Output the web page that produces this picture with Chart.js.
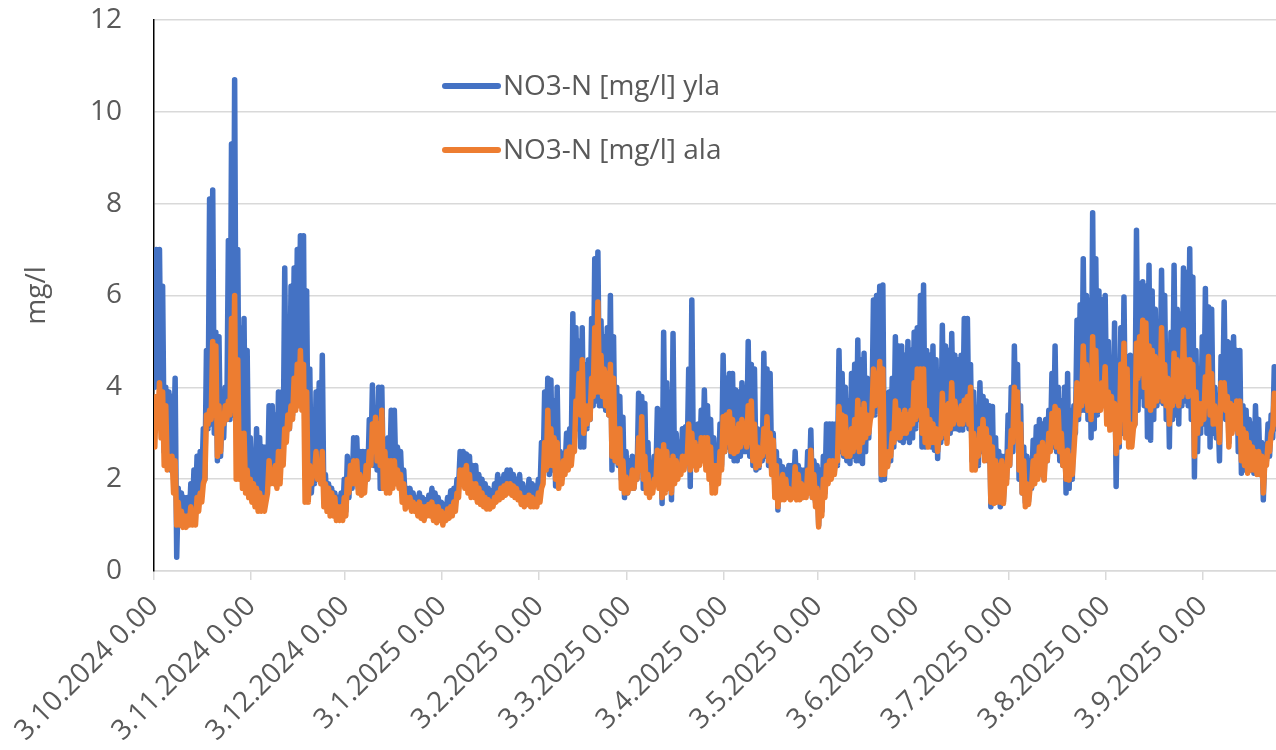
<!DOCTYPE html>
<html>
<head>
<meta charset="utf-8">
<script src="https://cdn.jsdelivr.net/npm/chart.js@4.4.1/dist/chart.umd.min.js"></script>
<style>
  html, body { margin: 0; padding: 0; background: #fff; }
</style>
</head>
<body>
<canvas id="myChart" width="1276" height="750"></canvas>
<script>
// days counted from 3.10.2024 0.00, one high and one low reading per day
var ylaHigh = [
  7.0, 7.0, 6.2, 4.0, 3.9, 3.8, 4.2, 1.8, 1.7, 1.6,
  1.6, 1.9, 2.2, 2.5, 2.6, 3.1, 4.8, 8.1, 8.3, 5.2,
  5.1, 3.4, 4.0, 7.2, 9.3, 10.7, 7.0, 5.3, 5.5, 4.8,
  2.9, 2.4, 3.1, 2.9, 2.7, 2.7, 3.6, 3.6, 3.4, 3.9,
  3.9, 6.6, 5.2, 6.2, 6.6, 7.0, 7.3, 7.3, 6.1, 4.4,
  2.3, 3.9, 4.1, 4.7, 2.1, 1.9, 1.8, 1.7, 1.6, 1.7,
  2.0, 2.5, 2.4, 2.9, 2.9, 2.6, 2.6, 2.6, 3.3, 4.05,
  3.3, 4.0, 4.0, 2.8, 2.9, 3.5, 3.5, 2.7, 2.6, 2.2,
  1.8, 1.8, 1.7, 1.6, 1.7, 1.6, 1.55, 1.65, 1.8, 1.7,
  1.6, 1.5, 1.45, 1.6, 1.75, 1.8, 2.0, 2.6, 2.6, 2.55,
  2.5, 2.3, 2.3, 2.1, 2.0, 1.9, 1.8, 1.75, 1.9, 2.1,
  2.0, 2.1, 2.2, 2.2, 2.1, 2.0, 2.1, 1.9, 1.8, 2.0,
  1.9, 1.85, 2.0, 2.8, 3.9, 4.2, 4.16, 3.7, 4.0, 2.6,
  2.5, 3.0, 3.1, 5.6, 5.3, 5.0, 5.3, 4.5, 4.6, 5.5,
  6.8, 6.95, 5.45, 5.1, 5.3, 6.0, 5.1, 4.0, 3.8, 3.35,
  2.6, 2.4, 2.5, 2.4, 3.87, 3.8, 3.65, 2.8, 2.3, 2.5,
  3.54, 3.5, 5.2, 4.1, 3.9, 5.17, 3.0, 2.8, 3.1, 3.14,
  4.4, 5.9, 3.1, 3.2, 3.5, 3.94, 3.6, 3.3, 2.9, 2.6,
  3.2, 4.7, 4.2, 4.3, 4.3, 3.94, 3.9, 4.1, 4.0, 5.0,
  4.5, 4.4, 3.1, 3.0, 4.74, 4.4, 4.3, 3.0, 2.6, 2.4,
  2.27, 2.2, 2.3, 2.3, 2.6, 2.3, 2.2, 2.2, 2.6, 3.07,
  2.4, 2.3, 2.2, 2.5, 3.2, 3.2, 3.2, 3.2, 4.8, 4.3,
  4.0, 3.7, 4.3, 4.5, 5.03, 4.6, 4.74, 4.2, 4.0, 5.9,
  6.0, 6.2, 6.23, 3.3, 3.9, 4.2, 5.1, 4.9, 4.9, 4.7,
  5.0, 4.8, 5.2, 5.3, 6.0, 6.23, 4.8, 4.7, 4.9, 4.6,
  3.7, 5.35, 4.9, 4.8, 5.17, 4.7, 4.6, 4.7, 5.5, 5.5,
  4.5, 3.9, 3.4, 4.1, 3.8, 3.7, 3.6, 3.58, 2.9, 2.6,
  2.5, 2.5, 3.4, 4.0, 4.9, 4.5, 3.6, 2.7, 2.5, 2.4,
  2.85, 3.14, 3.3, 3.2, 3.3, 3.5, 4.3, 4.9, 4.0, 3.7,
  4.0, 4.3, 3.5, 3.6, 5.46, 5.8, 6.8, 6.0, 5.9, 7.8,
  6.8, 6.1, 5.9, 6.0, 5.0, 4.6, 5.4, 4.0, 5.3, 5.97,
  4.67, 4.7, 4.5, 7.42, 6.26, 6.3, 6.2, 6.66, 6.1, 5.7,
  5.4, 6.55, 6.0, 4.8, 5.2, 6.66, 5.7, 5.6, 6.6, 6.5,
  7.02, 6.4, 4.8, 4.3, 5.1, 6.15, 5.75, 5.7, 4.0, 3.6,
  4.67, 5.86, 5.0, 4.96, 5.1, 4.8, 4.8, 3.6, 3.5, 3.3,
  3.2, 3.6, 3.3, 2.8, 2.6, 3.2, 3.4, 4.45, 4.45
];
var ylaLow = [
  4.0, 4.2, 3.8, 2.6, 2.5, 2.2, 2.6, 0.3, 1.0, 1.0,
  1.0, 1.1, 1.2, 1.4, 1.6, 1.9, 2.0, 3.1, 3.2, 3.0,
  2.4, 2.5, 2.9, 3.3, 3.3, 3.4, 3.4, 2.2, 2.3, 2.0,
  1.8, 1.7, 1.7, 1.8, 1.5, 1.6, 1.9, 2.0, 2.0, 2.1,
  2.3, 2.6, 3.0, 3.1, 3.4, 3.6, 3.8, 3.6, 2.1, 1.8,
  1.7, 1.9, 2.0, 2.0, 1.5, 1.4, 1.3, 1.3, 1.2, 1.2,
  1.2, 1.3, 1.6, 1.8, 2.0, 1.8, 1.7, 1.9, 2.0, 2.4,
  2.3, 2.2, 1.8, 1.9, 1.8, 2.1, 2.0, 2.1, 2.0, 1.7,
  1.5, 1.55, 1.5, 1.35, 1.4, 1.3, 1.3, 1.35, 1.4, 1.35,
  1.3, 1.25, 1.2, 1.25, 1.3, 1.4, 1.5, 1.8, 2.0, 1.9,
  1.8, 1.7, 1.7, 1.6, 1.55, 1.5, 1.45, 1.4, 1.5, 1.6,
  1.7, 1.7, 1.75, 1.8, 1.75, 1.7, 1.6, 1.55, 1.5, 1.55,
  1.5, 1.45, 1.6, 1.7, 2.1, 2.4, 2.1, 2.2, 1.85, 1.9,
  2.0, 2.2, 2.3, 2.6, 2.9, 3.1, 2.7, 2.7, 3.1, 3.3,
  3.6, 3.7, 3.6, 3.6, 3.5, 3.4, 2.2, 2.4, 2.3, 2.0,
  1.6, 1.7, 1.9, 1.8, 2.0, 2.3, 1.8, 1.8, 1.7, 1.8,
  2.0, 1.9, 1.47, 2.2, 2.0, 1.55, 2.0, 2.1, 2.2, 2.3,
  2.4, 1.84, 2.3, 2.4, 2.4, 2.5, 2.5, 2.3, 1.9, 1.9,
  2.1, 2.3, 2.6, 2.7, 2.5, 2.4, 2.4, 2.5, 2.6, 2.6,
  2.5, 2.3, 2.2, 2.25, 2.4, 2.5, 2.3, 2.2, 1.8, 1.33,
  1.6, 1.6, 1.65, 1.6, 1.7, 1.6, 1.6, 1.6, 1.7, 1.8,
  1.6, 1.5, 1.0, 1.3, 1.7, 2.0, 2.2, 2.3, 2.3, 2.6,
  2.5, 2.4, 2.34, 2.5, 2.4, 2.4, 2.34, 2.6, 2.9, 3.4,
  3.4, 3.9, 1.98, 2.0, 2.3, 2.4, 2.7, 2.9, 2.85, 2.8,
  2.9, 2.8, 2.9, 3.1, 3.3, 2.7, 2.7, 2.8, 2.7, 2.63,
  2.45, 2.8, 2.9, 2.9, 3.0, 3.1, 3.1, 3.07, 3.07, 3.2,
  3.1, 2.4, 2.5, 2.3, 2.6, 2.7, 2.4, 1.4, 1.6, 1.6,
  1.4, 1.5, 2.0, 2.3, 2.6, 2.9, 2.0, 1.7, 1.5, 1.5,
  1.8, 2.0, 2.2, 2.1, 2.0, 2.4, 2.7, 2.7, 2.6, 2.4,
  2.3, 1.7, 1.8, 2.0, 3.0, 3.3, 3.5, 3.5, 3.3, 2.9,
  3.1, 3.4, 3.6, 3.65, 3.4, 3.2, 3.1, 1.84, 2.7, 3.0,
  3.07, 2.9, 3.0, 3.2, 3.5, 3.8, 3.6, 2.92, 2.85, 3.3,
  3.6, 3.7, 3.65, 3.3, 2.7, 3.3, 3.4, 3.2, 3.6, 3.7,
  3.6, 3.3, 2.05, 2.6, 3.0, 3.2, 3.0, 2.7, 3.0, 2.9,
  2.4, 3.4, 3.3, 2.8, 3.1, 3.3, 2.6, 2.13, 2.2, 2.3,
  2.2, 2.13, 2.3, 2.1, 1.55, 2.4, 2.5, 2.9, 3.1
];
var alaHigh = [
  3.8, 4.1, 3.9, 3.6, 2.5, 2.5, 2.4, 1.5, 1.3, 1.2,
  1.2, 1.4, 1.3, 1.6, 1.7, 1.9, 3.4, 3.5, 5.0, 4.9,
  3.6, 3.4, 3.6, 3.7, 5.5, 6.0, 4.6, 3.0, 3.0, 2.2,
  2.0, 1.9, 1.8, 1.7, 1.6, 1.5, 2.4, 2.2, 2.3, 2.6,
  2.6, 3.1, 3.4, 3.6, 4.2, 4.5, 4.8, 4.5, 3.9, 2.3,
  2.2, 2.6, 2.3, 2.6, 1.9, 1.8, 1.7, 1.6, 1.4, 1.4,
  1.6, 2.0, 2.3, 2.4, 2.4, 2.1, 2.0, 2.3, 2.6, 3.2,
  3.35, 3.2, 3.5, 2.6, 2.4, 2.4, 2.4, 2.2, 2.1, 1.9,
  1.6, 1.6, 1.5, 1.45, 1.5, 1.4, 1.4, 1.45, 1.5, 1.4,
  1.4, 1.3, 1.25, 1.35, 1.4, 1.5, 1.7, 2.2, 2.2, 2.3,
  2.1, 1.9, 1.9, 1.8, 1.7, 1.6, 1.55, 1.5, 1.6, 1.7,
  1.8, 1.85, 1.9, 1.9, 1.85, 1.8, 1.7, 1.6, 1.6, 1.65,
  1.6, 1.55, 1.7, 1.8, 2.8, 3.5, 3.1, 2.9, 2.8, 2.3,
  2.4, 2.6, 2.7, 2.7, 3.7, 4.3, 4.6, 3.6, 3.6, 4.2,
  5.3, 5.86, 4.7, 4.4, 4.3, 4.5, 4.2, 3.1, 3.1, 2.4,
  2.05, 1.9, 2.2, 2.1, 2.9, 3.36, 2.5, 2.1, 1.9, 2.0,
  2.63, 2.6, 2.75, 2.6, 2.4, 2.5, 2.4, 2.3, 2.5, 2.5,
  3.2, 3.0, 2.8, 2.7, 2.9, 2.9, 2.9, 2.7, 2.3, 2.3,
  2.6, 3.36, 3.4, 3.47, 3.3, 3.1, 3.2, 3.3, 3.2, 3.6,
  3.7, 3.2, 2.7, 2.6, 3.1, 3.36, 3.0, 2.85, 2.3, 2.0,
  2.1, 2.0, 1.8, 1.7, 2.27, 2.1, 1.9, 1.8, 2.2, 2.63,
  2.1, 1.8, 1.7, 2.0, 2.3, 2.4, 2.4, 2.4, 3.58, 3.4,
  3.36, 3.0, 3.1, 3.3, 3.72, 3.5, 3.65, 3.4, 3.3, 4.4,
  4.3, 4.56, 4.4, 2.6, 2.6, 3.0, 3.7, 3.5, 3.4, 3.5,
  3.4, 3.5, 4.1, 4.4, 4.4, 4.4, 3.5, 3.3, 3.2, 3.1,
  3.0, 3.87, 3.6, 3.65, 4.1, 3.7, 3.5, 3.6, 3.72, 3.8,
  4.0, 3.0, 2.8, 3.1, 3.3, 3.1, 2.9, 2.7, 2.4, 2.3,
  2.4, 2.0, 2.6, 3.06, 4.0, 3.9, 3.2, 2.4, 1.9, 1.8,
  2.4, 2.5, 2.7, 2.8, 2.6, 3.0, 3.43, 3.58, 3.5, 3.0,
  2.6, 2.63, 2.5, 2.6, 4.1, 4.0, 4.9, 4.5, 4.2, 5.1,
  4.8, 3.9, 4.1, 4.45, 3.9, 3.8, 3.65, 3.2, 4.5, 4.96,
  4.4, 3.2, 3.1, 4.96, 5.1, 5.46, 5.4, 4.9, 4.8, 4.67,
  4.4, 5.3, 4.5, 4.2, 3.9, 4.74, 4.6, 4.3, 5.25, 4.6,
  4.6, 4.5, 3.9, 3.65, 3.65, 4.23, 4.67, 4.3, 3.6, 3.5,
  4.1, 4.1, 3.8, 3.65, 3.6, 3.7, 3.7, 3.1, 3.0, 2.8,
  2.7, 2.6, 2.6, 2.5, 2.4, 2.78, 3.0, 3.87, 3.8
];
var alaLow = [
  2.7, 3.3, 2.9, 2.3, 2.2, 2.3, 1.7, 1.0, 1.0, 0.95,
  0.95, 1.0, 1.0, 1.0, 1.3, 1.5, 2.0, 3.2, 3.3, 3.4,
  2.5, 2.6, 3.2, 3.3, 3.4, 3.5, 2.0, 2.0, 1.8, 1.7,
  1.6, 1.5, 1.4, 1.3, 1.3, 1.3, 1.7, 1.9, 1.9, 1.8,
  1.9, 2.3, 2.8, 3.1, 3.3, 3.5, 3.6, 3.5, 1.5, 1.5,
  1.9, 2.1, 2.0, 1.9, 1.4, 1.3, 1.2, 1.2, 1.1, 1.1,
  1.1, 1.2, 1.7, 1.9, 1.9, 1.7, 1.65, 1.7, 2.0, 2.3,
  2.6, 2.4, 2.3, 1.8, 1.7, 1.7, 1.8, 1.9, 1.8, 1.5,
  1.35, 1.4, 1.3, 1.3, 1.2, 1.15, 1.1, 1.2, 1.2, 1.1,
  1.05, 1.1, 1.0, 1.1, 1.15, 1.2, 1.3, 1.6, 1.9, 1.8,
  1.7, 1.6, 1.6, 1.5, 1.45, 1.4, 1.35, 1.35, 1.4, 1.5,
  1.55, 1.6, 1.65, 1.7, 1.65, 1.6, 1.55, 1.45, 1.4, 1.45,
  1.4, 1.4, 1.4, 1.5, 1.9, 2.2, 2.3, 2.3, 2.0, 1.8,
  1.9, 2.1, 2.2, 2.3, 2.6, 3.5, 3.4, 3.0, 3.2, 3.3,
  3.8, 3.9, 3.9, 3.8, 3.6, 3.4, 2.5, 2.4, 2.35, 1.8,
  1.7, 1.7, 1.8, 1.8, 2.0, 2.2, 2.0, 1.7, 1.6, 1.7,
  1.9, 1.8, 1.6, 1.7, 1.8, 1.7, 1.9, 2.0, 2.1, 2.2,
  2.4, 2.2, 2.3, 2.2, 2.3, 2.4, 2.2, 2.0, 1.7, 1.7,
  1.9, 2.2, 2.6, 2.8, 2.6, 2.56, 2.6, 2.7, 2.8, 2.7,
  2.8, 2.4, 2.25, 2.3, 2.5, 2.6, 2.4, 2.1, 1.6, 1.4,
  1.55, 1.55, 1.6, 1.55, 1.6, 1.55, 1.55, 1.6, 1.6, 1.7,
  1.6, 1.4, 0.96, 1.2, 1.6, 1.9, 2.0, 2.1, 2.4, 2.7,
  2.56, 2.5, 2.5, 2.6, 2.7, 2.6, 2.8, 2.9, 3.0, 3.4,
  3.6, 3.7, 2.1, 2.1, 2.27, 2.5, 2.8, 2.9, 2.9, 3.0,
  3.0, 3.1, 3.2, 3.3, 3.4, 3.0, 2.8, 2.7, 2.8, 2.8,
  2.6, 2.9, 3.0, 2.78, 3.1, 3.2, 3.3, 3.2, 3.2, 3.3,
  3.2, 2.2, 2.2, 2.5, 2.7, 2.4, 2.6, 1.5, 1.47, 1.5,
  1.5, 1.47, 1.9, 2.3, 2.8, 3.0, 2.2, 1.7, 1.4, 1.45,
  1.84, 1.9, 2.0, 2.1, 1.98, 2.4, 2.6, 2.8, 2.7, 2.6,
  2.3, 2.0, 1.98, 2.1, 3.2, 3.4, 3.6, 3.7, 3.5, 3.3,
  3.5, 3.5, 3.5, 3.6, 3.2, 3.07, 3.1, 2.56, 2.8, 3.3,
  2.9, 2.7, 2.7, 3.2, 4.2, 4.3, 4.0, 3.6, 3.5, 3.6,
  3.7, 3.8, 3.7, 3.6, 3.2, 3.6, 3.7, 3.6, 3.8, 3.9,
  3.8, 3.9, 2.5, 3.0, 3.2, 3.3, 3.6, 3.4, 3.2, 3.2,
  2.8, 3.7, 3.5, 2.7, 3.0, 3.1, 3.0, 2.4, 2.3, 2.13,
  2.2, 2.2, 2.1, 2.1, 1.7, 2.3, 2.6, 3.1, 3.2
];

var tickDays = [0, 31, 61, 92, 123, 151, 182, 212, 243, 273, 304, 335];
var tickLabels = ['3.10.2024 0.00', '3.11.2024 0.00', '3.12.2024 0.00', '3.1.2025 0.00',
  '3.2.2025 0.00', '3.3.2025 0.00', '3.4.2025 0.00', '3.5.2025 0.00',
  '3.6.2025 0.00', '3.7.2025 0.00', '3.8.2025 0.00', '3.9.2025 0.00'];
var seriesNames = ['NO3-N [mg/l] yla', 'NO3-N [mg/l] ala'];
var lastDay = 358.3;

var textColor = '#595959';
var gridColor = '#D9D9D9';
var fontName = '"Open Sans", sans-serif';

function toPoints(low, high) {
  var pts = [];
  for (var i = 0; i < low.length; i++) {
    pts.push({ x: i + 0.25, y: low[i] });
    pts.push({ x: i + 0.75, y: high[i] });
  }
  return pts;
}

// legend drawn inside the plot, like the excel one
var innerLegend = {
  id: 'innerLegend',
  afterDraw: function(chart) {
    var ctx = chart.ctx;
    var area = chart.chartArea;
    var sets = chart.data.datasets;
    ctx.save();
    ctx.font = '28px ' + fontName;
    ctx.textBaseline = 'middle';
    ctx.textAlign = 'left';
    for (var i = 0; i < sets.length; i++) {
      var y = area.top + 66 + i * 64;
      ctx.strokeStyle = sets[i].borderColor;
      ctx.lineWidth = 6;
      ctx.lineCap = 'round';
      ctx.beginPath();
      ctx.moveTo(area.left + 291, y);
      ctx.lineTo(area.left + 344, y);
      ctx.stroke();
      ctx.fillStyle = textColor;
      ctx.fillText(sets[i].label, area.left + 349, y + 1);
    }
    ctx.restore();
  }
};

Chart.defaults.font.family = fontName;
Chart.defaults.font.size = 28;
Chart.defaults.color = textColor;

var ctx = document.getElementById('myChart');
var chartNitrate = new Chart(ctx, {
  type: 'line',
  data: {
    datasets: [
      {
        label: seriesNames[0],
        data: toPoints(ylaLow, ylaHigh),
        borderColor: '#4472C4',
        backgroundColor: '#4472C4',
        borderWidth: 5.5,
        borderJoinStyle: 'round',
        borderCapStyle: 'round',
        pointRadius: 0,
        order: 2
      },
      {
        label: seriesNames[1],
        data: toPoints(alaLow, alaHigh),
        borderColor: '#ED7D31',
        backgroundColor: '#ED7D31',
        borderWidth: 5.5,
        borderJoinStyle: 'round',
        borderCapStyle: 'round',
        pointRadius: 0,
        order: 1
      }
    ]
  },
  options: {
    responsive: false,
    animation: false,
    events: [],
    layout: { padding: { left: 20, top: 20, right: 0, bottom: 0 } },
    plugins: {
      legend: { display: false },
      tooltip: { enabled: false }
    },
    scales: {
      x: {
        type: 'linear',
        min: 0,
        max: lastDay,
        afterBuildTicks: function(scale) {
          scale.ticks = tickDays.map(function(d) { return { value: d }; });
        },
        afterFit: function(scale) {
          scale.height = 179;
          scale.paddingLeft = 0;
          scale.paddingRight = 0;
        },
        ticks: {
          autoSkip: false,
          maxRotation: 45,
          minRotation: 45,
          padding: 10,
          color: textColor,
          font: { size: 28 },
          callback: function(value, index) { return tickLabels[index]; }
        },
        grid: {
          drawOnChartArea: false,
          drawTicks: true,
          tickLength: 9,
          color: gridColor,
          lineWidth: 1.5
        },
        border: { color: gridColor, width: 1.5 }
      },
      y: {
        min: 0,
        max: 12,
        afterFit: function(scale) {
          scale.width = 134;
          scale.paddingTop = 0;
          scale.paddingBottom = 0;
        },
        ticks: { stepSize: 2, padding: 32, color: textColor, font: { size: 28 } },
        grid: { color: gridColor, lineWidth: 1.5, drawTicks: false },
        border: { color: '#000000', width: 1.5 },
        title: {
          display: true,
          text: 'mg/l',
          color: textColor,
          font: { size: 28 },
          padding: { top: 0, bottom: 0 }
        }
      }
    }
  },
  plugins: [innerLegend]
});
</script>
</body>
</html>
